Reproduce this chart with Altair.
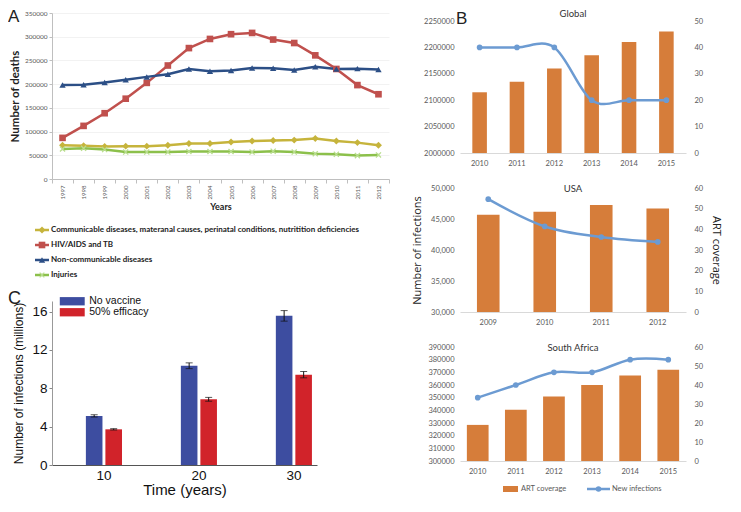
import altair as alt
import pandas as pd

# ---------------- Panel A data ----------------
years_a = [str(y) for y in range(1997, 2013)]
series_a = [
    "Communicable diseases, materanal causes, perinatal conditions, nutritition deficiencies",
    "HIV/AIDS and TB",
    "Non-communicable diseases",
    "Injuries",
]
communicable = [71300, 70000, 68700, 69300, 69300, 71300, 74700, 74700, 78000, 80000, 81300, 82000, 85300, 80000, 76700, 71300]
hiv_tb = [86700, 112000, 138700, 169300, 202700, 239300, 276000, 295300, 305300, 308000, 294000, 286700, 260700, 232000, 198000, 178700]
noncomm = [198000, 198700, 203300, 209300, 215300, 220700, 232000, 227300, 228700, 234000, 233300, 230000, 236700, 232000, 232700, 230700]
injuries = [63300, 64700, 62000, 56700, 56700, 56700, 58000, 58000, 58000, 56700, 58700, 56700, 53300, 52000, 49300, 50700]
colors_a = ["#C6B43C", "#C0504D", "#2C4F86", "#8CC04B"]

# ---------------- Panel B data ----------------
g_years = ["2010", "2011", "2012", "2013", "2014", "2015"]
g_art = [23, 27, 32, 37, 42, 46]
g_inf = [2200000, 2200000, 2200000, 2100000, 2100000, 2100000]

u_years = ["2009", "2010", "2011", "2012"]
u_art = [47.0, 48.5, 51.8, 50.1]
u_inf = [48200, 43800, 42100, 41300]

s_years = ["2010", "2011", "2012", "2013", "2014", "2015"]
s_art = [19, 27, 34, 40, 45, 48]
s_inf = [350000, 360000, 370000, 370000, 380000, 380000]

# ---------------- Panel C data ----------------
times_c = ["10", "20", "30"]
groups_c = ["No vaccine", "50% efficacy"]
no_vac = [5.12, 10.35, 15.55]
no_vac_err = [0.12, 0.3, 0.55]
half_eff = [3.72, 6.85, 9.42]
half_eff_err = [0.07, 0.2, 0.33]
colors_c = ["#3D4DA0", "#D1232A"]

FA = "Lato"
FC = "Liberation Sans"
ORANGE = "#D67D3A"
LBLUE = "#6C9BD2"
GREY = "#595959"

# ================= Panel A =================
rows = []
for name, vals in zip(series_a, [communicable, hiv_tb, noncomm, injuries]):
    for y, v in zip(years_a, vals):
        rows.append({"year": y, "series": name, "deaths": v})
df_a = pd.DataFrame(rows)

A_H = 166
xpath = "M-1,-1L1,1M1,-1L-1,1"
cscale = alt.Scale(domain=series_a, range=colors_a)
shscale = alt.Scale(domain=series_a, range=["diamond", "square", "triangle-up", xpath])
szscale = alt.Scale(domain=series_a, range=[48, 36, 60, 30])

xA = alt.X("year:O",
           scale=alt.Scale(type="band", paddingInner=0, paddingOuter=0),
           axis=alt.Axis(title="Years", labelAngle=270, labelFont=FA, labelFontSize=6,
                         labelColor=GREY, tickBand="extent", tickSize=4, tickColor="#bfbfbf",
                         domainColor="#bfbfbf", titleFont=FA, titleFontSize=9,
                         titleFontWeight="bold", titleColor="#222", titlePadding=4, labelPadding=2))
yA = alt.Y("deaths:Q",
           scale=alt.Scale(domain=[0, 350000], nice=False),
           axis=alt.Axis(title="Number of deaths", values=list(range(0, 350001, 50000)), format="d",
                         labelFont=FA, labelFontSize=6.5, labelColor=GREY, tickSize=3,
                         tickColor="#bfbfbf", domainColor="#bfbfbf", grid=True, gridColor="#f2f2f2",
                         titleFont=FA, titleFontSize=11.5, titleFontWeight="bold", titleColor="#222",
                         titlePadding=4))

baseA = alt.Chart(df_a).encode(x=xA, y=yA)
lineA = baseA.mark_line(strokeWidth=2.5).encode(
    color=alt.Color("series:N", scale=cscale, legend=None), detail="series:N")
ptsA = baseA.transform_filter(alt.datum.series != "Injuries").mark_point(filled=True, opacity=1).encode(
    color=alt.Color("series:N", scale=cscale, legend=None),
    shape=alt.Shape("series:N", scale=shscale, legend=None),
    size=alt.Size("series:N", scale=szscale, legend=None))
ptsAx = baseA.transform_filter(alt.datum.series == "Injuries").mark_point(
    shape=xpath, filled=False, size=26, strokeWidth=1.3, color="#B9DE8E", opacity=1)
plotA = alt.layer(lineA, ptsA, ptsAx)

leg_df = pd.DataFrame({"series": series_a})
legY = alt.Y("series:N", sort=series_a,
             scale=alt.Scale(type="point", domain=series_a, range=[217, 262], padding=0), axis=None)
legBase = alt.Chart(leg_df).encode(y=legY)
legRule = legBase.mark_rule(strokeWidth=2.5).encode(
    x=alt.value(-17), x2=alt.value(-3), color=alt.Color("series:N", scale=cscale, legend=None))
legPts = legBase.transform_filter(alt.datum.series != "Injuries").mark_point(filled=True, opacity=1).encode(
    x=alt.value(-10), color=alt.Color("series:N", scale=cscale, legend=None),
    shape=alt.Shape("series:N", scale=shscale, legend=None),
    size=alt.Size("series:N", scale=szscale, legend=None))
legPtsX = legBase.transform_filter(alt.datum.series == "Injuries").mark_point(
    shape=xpath, filled=False, size=22, strokeWidth=1.3, color="#B9DE8E", opacity=1).encode(x=alt.value(-10))
legTxt = legBase.mark_text(align="left", baseline="middle", font=FA, fontSize=8,
                           fontWeight="bold", color="#222").encode(x=alt.value(-1), text="series:N")
letterA = alt.Chart(pd.DataFrame({"t": ["A"]})).mark_text(
    align="left", baseline="top", font=FC, fontSize=17, color="#222").encode(
    text="t:N", x=alt.value(-44), y=alt.value(-4))

chartA = alt.layer(plotA, legRule, legPts, legPtsX, legTxt, letterA).resolve_scale(
    y="independent").properties(width=337, height=A_H)

# ================= Panel C =================
rows = []
for t, a, ae, b, be in zip(times_c, no_vac, no_vac_err, half_eff, half_eff_err):
    rows.append({"time": t, "group": groups_c[0], "value": a, "lo": a - ae, "hi": a + ae})
    rows.append({"time": t, "group": groups_c[1], "value": b, "lo": b - be, "hi": b + be})
df_c = pd.DataFrame(rows)

xC = alt.X("time:N", sort=times_c,
           scale=alt.Scale(paddingInner=0.62, paddingOuter=0.205, align=0.87),
           axis=alt.Axis(title="Time (years)", labelAngle=0, ticks=False, domainColor="#555",
                         labelFont=FC, labelFontSize=13.5, labelColor="#111", labelPadding=3,
                         titleFont=FC, titleFontSize=15, titleFontWeight="normal", titleColor="#111",
                         titlePadding=1))
yC = alt.Y("value:Q", scale=alt.Scale(domain=[0, 17.1], nice=False),
           axis=alt.Axis(title="Number of infections (millions)", values=list(range(0, 17, 2)),
                         labelExpr="datum.value % 4 == 0 ? datum.label : ''", labelOverlap=False,
                         labelFont=FC, labelFontSize=13.5, labelColor="#111", tickSize=3,
                         tickColor="#888", domainColor="#999", grid=False,
                         titleFont=FC, titleFontSize=12, titleFontWeight="normal", titleColor="#111",
                         titlePadding=6))
xoC = alt.XOffset("group:N", sort=groups_c, scale=alt.Scale(domain=groups_c, paddingInner=0.15))
barsC = alt.Chart(df_c).mark_bar().encode(
    x=xC, xOffset=xoC, y=yC,
    color=alt.Color("group:N", sort=groups_c, scale=alt.Scale(domain=groups_c, range=colors_c),
                    legend=alt.Legend(title=None, orient="none", legendX=15, legendY=-5,
                                      symbolType="M-3,-1H3V1H-3Z", symbolSize=69,
                                      symbolStrokeWidth=0, labelFont=FC, labelFontSize=10.5,
                                      labelColor="#111", rowPadding=0, labelOffset=11.7, padding=0)))
errC = alt.Chart(df_c).mark_rule(color="#111", strokeWidth=1).encode(
    x=xC, xOffset=xoC, y=alt.Y("lo:Q"), y2="hi:Q")
capHi = alt.Chart(df_c).mark_tick(color="#111", thickness=1, size=7).encode(
    x=xC, xOffset=xoC, y=alt.Y("hi:Q"))
capLo = alt.Chart(df_c).mark_tick(color="#111", thickness=1, size=7).encode(
    x=xC, xOffset=xoC, y=alt.Y("lo:Q"))
letterC = alt.Chart(pd.DataFrame({"t": ["C"]})).mark_text(
    align="left", baseline="top", font=FC, fontSize=18, color="#222").encode(
    text="t:N", x=alt.value(-44), y=alt.value(-11))
chartC = alt.layer(barsC, errC, capHi, capLo, letterC).properties(width=265, height=164)


# ================= Panel B =================
def panel_b(name, years, art, inf, ldomain, lvalues, lfmt, rdomain, rvalues, h, pi, po,
            titles=False, title_dy=1, top=0, extra=()):
    df = pd.DataFrame({"year": years, "art": art, "inf": inf})
    x = alt.X("year:O", sort=years, scale=alt.Scale(paddingInner=pi, paddingOuter=po),
              axis=alt.Axis(title=None, labelAngle=0, ticks=False, domainColor="#d9d9d9",
                            labelFont=FA, labelFontSize=7.5, labelColor=GREY, labelPadding=6))
    bars = alt.Chart(df).mark_bar(color=ORANGE).encode(
        x=x,
        y=alt.Y("art:Q", scale=alt.Scale(domain=rdomain, nice=False, range=[h, top]),
                axis=alt.Axis(orient="right", values=rvalues, title="ART coverage" if titles else None,
                              labelFont=FA, labelFontSize=7.5, labelColor=GREY, ticks=False,
                              domain=False, grid=False, labelPadding=8,
                              titleFont="Open Sans", titleFontSize=11, titleFontWeight="normal",
                              titleColor="#222", titlePadding=8)))
    yl = alt.Y("inf:Q", scale=alt.Scale(domain=ldomain, nice=False, zero=False, range=[h, top]),
               axis=alt.Axis(orient="left", values=lvalues, format=lfmt,
                             title="Number of infections" if titles else None,
                             labelFont=FA, labelFontSize=7.5, labelColor=GREY, ticks=False,
                             domain=False, grid=False, labelPadding=6,
                             titleFont="Open Sans", titleFontSize=11, titleFontWeight="normal",
                             titleColor="#222", titlePadding=8))
    line = alt.Chart(df).mark_line(color=LBLUE, strokeWidth=2.5, interpolate="cardinal").encode(x=x, y=yl)
    pts = alt.Chart(df).mark_circle(color=LBLUE, size=32, opacity=1).encode(x=x, y=yl)
    ttl = alt.Chart(pd.DataFrame({"t": [name]})).mark_text(
        font=FA, fontSize=9.5, color="#333", baseline="middle", align="center").encode(
        text="t:N", x=alt.value(113), y=alt.value(top + title_dy))
    return alt.layer(bars, alt.layer(line, pts), ttl, *extra).resolve_scale(
        y="independent").properties(width=226, height=h)


G_TOP = 8
letterB = alt.Chart(pd.DataFrame({"t": ["B"]})).mark_text(
    align="left", baseline="top", font=FC, fontSize=17, color="#222").encode(
    text="t:N", x=alt.value(-4), y=alt.value(G_TOP - 10))

SA_H = 114
legB_df = pd.DataFrame({"t": ["ART coverage"]})
legB_rect = alt.Chart(legB_df).mark_rect(color=ORANGE).encode(
    x=alt.value(43), x2=alt.value(58), y=alt.value(SA_H + 25), y2=alt.value(SA_H + 31))
legB_t1 = alt.Chart(legB_df).mark_text(align="left", baseline="middle", font=FA, fontSize=7.5,
                                       color=GREY).encode(text="t:N", x=alt.value(61), y=alt.value(SA_H + 28))
legB2_df = pd.DataFrame({"t": ["New infections"]})
legB_rule = alt.Chart(legB2_df).mark_rule(color=LBLUE, strokeWidth=2.5).encode(
    x=alt.value(127), x2=alt.value(150), y=alt.value(SA_H + 28))
legB_dot = alt.Chart(legB2_df).mark_circle(color=LBLUE, size=30, opacity=1).encode(
    x=alt.value(138.5), y=alt.value(SA_H + 28))
legB_t2 = alt.Chart(legB2_df).mark_text(align="left", baseline="middle", font=FA, fontSize=7.5,
                                        color=GREY).encode(text="t:N", x=alt.value(152), y=alt.value(SA_H + 28))

chartG = panel_b("Global", g_years, g_art, g_inf, [2000000, 2250000], list(range(2000000, 2250001, 50000)),
                 "d", [0, 50], list(range(0, 51, 10)), 140, 0.61, 0.33, title_dy=-7, top=G_TOP,
                 extra=(letterB,))
chartU = panel_b("USA", u_years, u_art, u_inf, [30000, 50000], list(range(30000, 50001, 5000)),
                 ",d", [0, 60], list(range(0, 61, 10)), 124, 0.6, 0.3, titles=True, title_dy=1)
chartS = panel_b("South Africa", s_years, s_art, s_inf, [300000, 390000], list(range(300000, 390001, 10000)),
                 "d", [0, 60], list(range(0, 61, 10)), SA_H, 0.43, 0.18, title_dy=1,
                 extra=(legB_rect, legB_t1, legB_rule, legB_dot, legB_t2))

left = alt.vconcat(chartA, chartC, spacing=122, bounds="flush").resolve_scale(
    color="independent", shape="independent", size="independent")
right = alt.vconcat(chartG, chartU, chartS, spacing=35, bounds="flush")
chart = alt.hconcat(left, right, spacing=21,
                    padding={"left": 0, "top": 0, "right": 6, "bottom": 0}).configure_view(stroke=None)

chart.save("out.html", embed_options={"renderer": "svg", "actions": False})
